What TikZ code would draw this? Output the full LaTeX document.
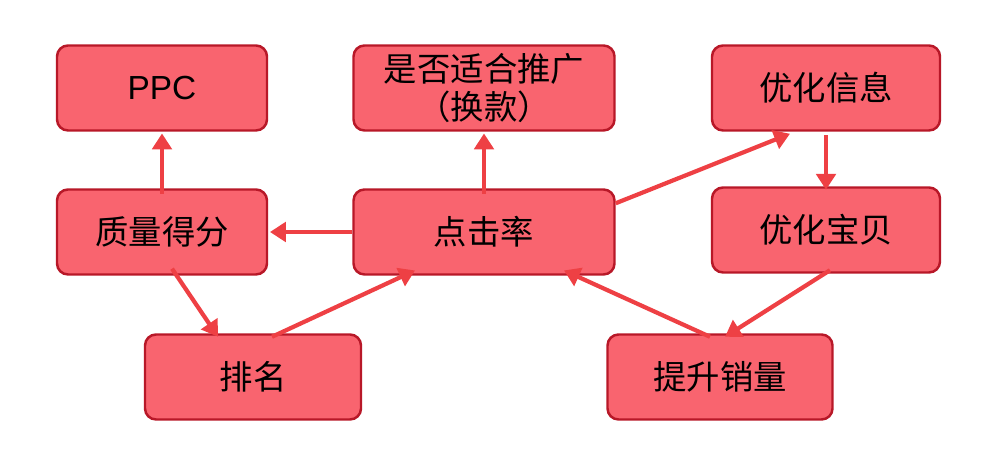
\documentclass[tikz,border=0pt]{standalone}
\usepackage{fontspec}
\setmainfont{Liberation Sans}
\newfontfamily\cjk{Noto Sans CJK SC}
\usetikzlibrary{arrows.meta}
\definecolor{boxfill}{HTML}{F9646F}
\definecolor{boxline}{HTML}{B81828}
\definecolor{arr}{HTML}{EE4044}
\begin{document}
\begin{tikzpicture}[x=0.02cm,y=-0.02cm,
  box/.style={draw=boxline,line width=1.4pt,fill=boxfill,rounded corners=0.22cm,
    minimum height=85*0.02cm,inner sep=0pt,align=center,
    font=\cjk\fontsize{19}{22}\selectfont},
  ar/.style={draw=arr,line width=2.4pt,-{Triangle[length=9pt,width=11pt]}}]
\useasboundingbox (0,0) rectangle (990,475);
\node[box,minimum width=210*0.02cm] (ppc) at (162,88) {\fontspec{Liberation Sans}PPC};
\node[box,minimum width=261*0.02cm] (tg) at (484,88) {是否适合推广\\（换款）};
\node[box,minimum width=228*0.02cm] (yx) at (826,88) {优化信息};
\node[box,minimum width=210*0.02cm] (zl) at (162,232) {质量得分};
\node[box,minimum width=261*0.02cm] (dj) at (484,232) {点击率};
\node[box,minimum width=228*0.02cm] (yb) at (826,230) {优化宝贝};
\node[box,minimum width=216*0.02cm] (pm) at (253,377) {排名};
\node[box,minimum width=225*0.02cm] (ts) at (720,377) {提升销量};
\draw[ar] ([yshift=-3pt]zl.north) -- ([yshift=-1pt]ppc.south);
\draw[ar] ([yshift=-3pt]dj.north) -- ([yshift=-1pt]tg.south);
\draw[ar] (dj.west) -- ([xshift=1pt]zl.east);
\draw[ar] ([yshift=-15*0.02cm]dj.north east) -- ([xshift=-36*0.02cm,yshift=-2*0.02cm]yx.south);
\draw[ar] ([yshift=-2pt]yx.south) -- ([yshift=-2pt]yb.north);
\draw[ar] ([xshift=4*0.02cm,yshift=2pt]yb.south) -- ([xshift=5*0.02cm,yshift=-2pt]ts.north);
\draw[ar] ([xshift=-10*0.02cm,yshift=-2pt]ts.north) -- ([xshift=80*0.02cm,yshift=3pt]dj.south);
\draw[ar] ([xshift=10*0.02cm,yshift=4pt]zl.south) -- ([xshift=-35*0.02cm,yshift=-2pt]pm.north);
\draw[ar] ([xshift=19*0.02cm,yshift=-2pt]pm.north) -- ([xshift=-69*0.02cm,yshift=3pt]dj.south);
\end{tikzpicture}
\end{document}
